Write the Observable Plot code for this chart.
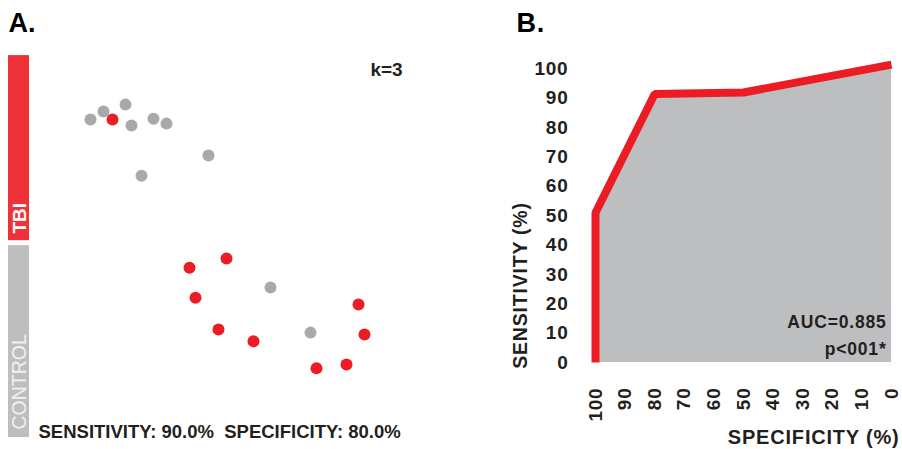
<!DOCTYPE html>
<html><head><meta charset="utf-8">
<script src="https://cdn.jsdelivr.net/npm/d3@7"></script>
<script src="https://cdn.jsdelivr.net/npm/@observablehq/plot@0.6"></script>
<style>
body{margin:0;background:#fff;}
#wrap{position:relative;width:902px;height:449px;display:flex;overflow:hidden;}
#wrap svg{display:block;flex:none;}
</style></head><body><div id="wrap"></div>
<script>
// ---------- Panel A: k-NN classification (k=3) ----------
const dotX = [12.5, 15.75, 21.25, 22.75, 28.25, 31.5, 42, 25.25, 57.5, 67.5,
              18, 37.25, 46.5, 38.75, 44.5, 53.25, 79.5, 81, 76.5, 69];
const dotY = [83.7, 85.8, 87.6, 82.1, 83.9, 82.6, 74.2, 68.9, 39.5, 27.6,
              83.7, 44.7, 47.1, 36.8, 28.4, 25.3, 35, 27.1, 19.2, 18.2];
const dotClass = ["CONTROL","CONTROL","CONTROL","CONTROL","CONTROL","CONTROL","CONTROL","CONTROL","CONTROL","CONTROL",
                  "TBI","TBI","TBI","TBI","TBI","TBI","TBI","TBI","TBI","TBI"];
const groups = ["TBI", "CONTROL"];
const groupLo = [51.8, 0];
const groupHi = [100.5, 50.5];
const kLabel = "k=3";
const summaryLabel = "SENSITIVITY: 90.0%  SPECIFICITY: 80.0%";

// ---------- Panel B: ROC curve ----------
const specificity = [100, 100, 80, 50, 0];
const sensitivity = [0, 51, 91.5, 92, 101.5];
const xTicks = [100, 90, 80, 70, 60, 50, 40, 30, 20, 10, 0];
const yTicks = [0, 10, 20, 30, 40, 50, 60, 70, 80, 90, 100];
const aucLabels = ["AUC=0.885", "p<001*"];

const FONT = "'Liberation Sans', Arial, Helvetica, sans-serif";
const INK = "#231f20";
const dotColor = {TBI: "#ed1c24", CONTROL: "#a7a9ac"};
const barColor = {TBI: "#ed3338", CONTROL: "#bcbec0"};

const dots = dotX.map((x, i) => ({x, y: dotY[i], cls: dotClass[i]}));
const bars = groups.map((g, i) => ({g, lo: groupLo[i], hi: groupHi[i]}));
const roc = specificity.map((s, i) => ({spec: s, sens: sensitivity[i]}));

const A = Plot.plot({
  width: 450, height: 449,
  marginTop: 0, marginRight: 0, marginBottom: 0, marginLeft: 0,
  x: {domain: [0, 100], range: [40, 440], axis: null},
  y: {domain: [0, 100], range: [437, 57], axis: null},
  color: {type: "identity"},
  style: {fontFamily: FONT, color: INK, background: "transparent"},
  marks: [
    Plot.rect(bars, {x1: () => -8, x2: () => -2.75, y1: "lo", y2: "hi", fill: d => barColor[d.g]}),
    Plot.text([groups[0]], {text: d => d, frameAnchor: "top-left", dx: 19, dy: 233, rotate: -90,
      textAnchor: "start", lineAnchor: "middle", fontSize: 19, fontWeight: "bold", fill: "#ffffff"}),
    Plot.text([groups[1]], {text: d => d, frameAnchor: "top-left", dx: 19, dy: 429, rotate: -90,
      textAnchor: "start", lineAnchor: "middle", fontSize: 19.5, fontWeight: "normal", fill: "#f1f1f2"}),
    Plot.dot(dots, {x: "x", y: "y", r: 6, fill: d => dotColor[d.cls], stroke: "none"}),
    Plot.text(["A."], {text: d => d, frameAnchor: "top-left", dx: 8, dy: 12, textAnchor: "start",
      lineAnchor: "top", fontSize: 27, fontWeight: "bold", fill: "#000"}),
    Plot.text([kLabel], {text: d => d, frameAnchor: "top-left", dx: 386, dy: 69, textAnchor: "middle",
      lineAnchor: "middle", fontSize: 19, fontWeight: "bold", fill: INK}),
    Plot.text([summaryLabel], {text: d => d, frameAnchor: "top-left", dx: 38, dy: 432, textAnchor: "start",
      lineAnchor: "middle", fontSize: 18.5, fontWeight: "bold", fill: INK})
  ]
});

const B = Plot.plot({
  width: 452, height: 449,
  marginLeft: 145, marginRight: 11, marginTop: 68.5, marginBottom: 87,
  x: {domain: [100, 0], ticks: xTicks, tickRotate: -90, tickSize: 0, tickPadding: 25, label: null},
  y: {domain: [0, 100], ticks: yTicks, tickSize: 0, tickPadding: 27, label: null},
  style: {fontFamily: FONT, fontSize: "19px", fontWeight: "bold", color: INK, background: "transparent", letterSpacing: "0.8px"},
  marks: [
    Plot.areaY(roc, {x: "spec", y: "sens", fill: "#bcbec0"}),
    Plot.line(roc, {x: "spec", y: "sens", stroke: "#ed1c24", strokeWidth: 8, strokeLinejoin: "miter", strokeLinecap: "butt"}),
    Plot.text([aucLabels[0]], {text: d => d, frameAnchor: "bottom-right", dx: -5, dy: -40, textAnchor: "end",
      lineAnchor: "middle", fontSize: 17.5, fontWeight: "bold", fill: INK}),
    Plot.text([aucLabels[1]], {text: d => d, frameAnchor: "bottom-right", dx: -5, dy: -13, textAnchor: "end",
      lineAnchor: "middle", fontSize: 17.5, fontWeight: "bold", fill: INK}),
    Plot.text(["SENSITIVITY (%)"], {text: d => d, frameAnchor: "top-left", dx: -75, dy: 216.5, rotate: -90,
      textAnchor: "middle", lineAnchor: "middle", fontSize: 19.5, fontWeight: "bold", fill: INK}),
    Plot.text(["SPECIFICITY (%)"], {text: d => d, frameAnchor: "bottom-right", dx: 8, dy: 75, textAnchor: "end",
      lineAnchor: "middle", fontSize: 20, fontWeight: "bold", fill: INK}),
    Plot.text(["B."], {text: d => d, frameAnchor: "top-left", dx: -79, dy: -56.5, textAnchor: "start",
      lineAnchor: "top", fontSize: 27, fontWeight: "bold", fill: "#000", letterSpacing: "0px"})
  ]
});

document.getElementById("wrap").append(A, B);
</script></body></html>
